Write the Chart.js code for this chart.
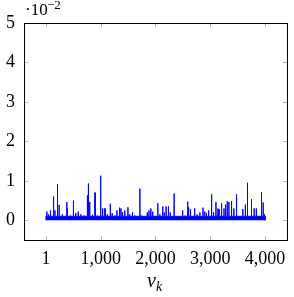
<!DOCTYPE html>
<html>
<head>
<meta charset="utf-8">
<script src="https://cdn.jsdelivr.net/npm/chart.js@4.4.1/dist/chart.umd.min.js"></script>
<style>
    html, body { margin: 0; padding: 0; background: #fff; }
    #wrap { width: 294px; height: 297px; }
</style>
</head>
<body>
<div id="wrap"><canvas id="vkChart" width="294" height="297"></canvas></div>
<script>
// spike positions (v_k) and heights
const spikeVk = [18, 50, 85, 140, 165, 212, 242, 300, 382, 395, 450, 503, 545, 590, 640, 700,
    758, 776, 800, 850, 897, 940, 1000, 1036, 1080, 1120, 1176, 1210, 1260, 1297, 1345, 1370,
    1400, 1440, 1497, 1530, 1580, 1620, 1715, 1740, 1800, 1850, 1880, 1915, 1950, 2042, 2080,
    2133, 2160, 2194, 2236, 2270, 2340, 2380, 2440, 2496, 2540, 2588, 2605, 2640, 2715, 2760,
    2810, 2867, 2900, 2930, 2970, 3024, 3060, 3103, 3140, 3160, 3206, 3250, 3280, 3310, 3340,
    3388, 3430, 3479, 3520, 3594, 3640, 3679, 3752, 3800, 3840, 3934, 3965, 3990];
const spikeVal = [0.0022, 0.0015, 0.0025, 0.0060, 0.0025, 0.0091, 0.0039, 0.0015, 0.0046, 0.0030,
    0.0012, 0.0050, 0.0018, 0.0022, 0.0015, 0.0012, 0.0063, 0.0093, 0.0046, 0.0014, 0.0070, 0.0012,
    0.0113, 0.0030, 0.0030, 0.0015, 0.0042, 0.0018, 0.0012, 0.0025, 0.0032, 0.0030, 0.0020, 0.0025,
    0.0033, 0.0015, 0.0020, 0.0012, 0.0080, 0.0012, 0.0010, 0.0020, 0.0025, 0.0030, 0.0022, 0.0043,
    0.0015, 0.0035, 0.0020, 0.0035, 0.0035, 0.0020, 0.0068, 0.0010, 0.0010, 0.0025, 0.0012, 0.0047,
    0.0033, 0.0028, 0.0030, 0.0015, 0.0020, 0.0032, 0.0022, 0.0018, 0.0025, 0.0066, 0.0020, 0.0046,
    0.0030, 0.0028, 0.0043, 0.0030, 0.0040, 0.0048, 0.0046, 0.0049, 0.0030, 0.0066, 0.0010, 0.0028,
    0.0040, 0.0095, 0.0053, 0.0030, 0.0030, 0.0071, 0.0045, 0.0015];
const vkFirst = 1;
const vkLast = 4000;
const bandTop = 0.001;   // height of the dense low band

const xTicks = [1, 1000, 2000, 3000, 4000];
const yTicks = [0, 0.01, 0.02, 0.03, 0.04, 0.05];

const points = [{ x: vkFirst, y: 0 }, { x: vkFirst, y: bandTop }];
spikeVk.forEach((vk, i) => {
    points.push({ x: vk - 1, y: bandTop });
    points.push({ x: vk, y: spikeVal[i] });
    points.push({ x: vk + 1, y: bandTop });
});
points.push({ x: vkLast, y: bandTop }, { x: vkLast, y: 0 });

const serif = '"Liberation Serif", "DejaVu Serif", serif';

// frame, inner tick marks, exponent and axis label
const pgfLook = {
    id: 'pgfLook',
    afterDraw(chart) {
        const ctx = chart.ctx;
        const a = chart.chartArea;
        const xs = chart.scales.x;
        const ys = chart.scales.y;
        ctx.save();
        ctx.strokeStyle = '#a0a0a0';
        ctx.lineWidth = 0.8;
        ctx.beginPath();
        xTicks.forEach(v => {
            const px = Math.round(xs.getPixelForValue(v)) + 0.5;
            ctx.moveTo(px, a.top); ctx.lineTo(px, a.top + 4);
            ctx.moveTo(px, a.bottom); ctx.lineTo(px, a.bottom - 4);
        });
        yTicks.forEach(v => {
            const py = Math.round(ys.getPixelForValue(v)) + 0.5;
            ctx.moveTo(a.left, py); ctx.lineTo(a.left + 4, py);
            ctx.moveTo(a.right, py); ctx.lineTo(a.right - 4, py);
        });
        ctx.stroke();

        ctx.strokeStyle = '#000';
        ctx.lineWidth = 1;
        ctx.strokeRect(Math.round(a.left) + 0.5, Math.round(a.top) + 0.5,
            Math.round(a.right - a.left), Math.round(a.bottom - a.top));

        ctx.fillStyle = '#000';
        ctx.textBaseline = 'alphabetic';
        ctx.textAlign = 'left';
        ctx.font = '17px ' + serif;
        ctx.fillText('\u00b710', 25, 15);
        ctx.font = '13px ' + serif;
        ctx.fillText('\u22122', 47, 9);

        ctx.font = 'italic 20px ' + serif;
        ctx.fillText('v', 147, 287);
        ctx.font = 'italic 14px ' + serif;
        ctx.fillText('k', 156, 291);
        ctx.restore();
    }
};

new Chart(document.getElementById('vkChart'), {
    type: 'line',
    data: {
        datasets: [{
            data: points,
            borderColor: 'rgb(0, 0, 255)',
            backgroundColor: 'rgb(0, 0, 255)',
            borderWidth: 1,
            fill: 'origin',
            pointRadius: 0,
            tension: 0
        }]
    },
    options: {
        responsive: false,
        animation: false,
        events: [],
        layout: { padding: { top: 23, right: 7, left: 0, bottom: 0 } },
        plugins: { legend: { display: false }, tooltip: { enabled: false } },
        scales: {
            x: {
                type: 'linear',
                min: -399,
                max: 4400,
                afterFit: (s) => { s.height = 57; },
                afterBuildTicks: (s) => { s.ticks = xTicks.map(v => ({ value: v })); },
                grid: { display: false, drawTicks: false },
                border: { display: false },
                ticks: {
                    padding: 8,
                    color: '#000',
                    font: { family: serif, size: 18 },
                    maxRotation: 0,
                    callback: (v) => v.toLocaleString('en-US')
                }
            },
            y: {
                min: -0.005,
                max: 0.05,
                afterFit: (s) => { s.width = 24; },
                afterBuildTicks: (s) => { s.ticks = yTicks.map(v => ({ value: v })); },
                grid: { display: false, drawTicks: false },
                border: { display: false },
                ticks: {
                    padding: 9,
                    color: '#000',
                    font: { family: serif, size: 18 },
                    callback: (v) => String(Math.round(v * 100))
                }
            }
        }
    },
    plugins: [pgfLook]
});
</script>
</body>
</html>
